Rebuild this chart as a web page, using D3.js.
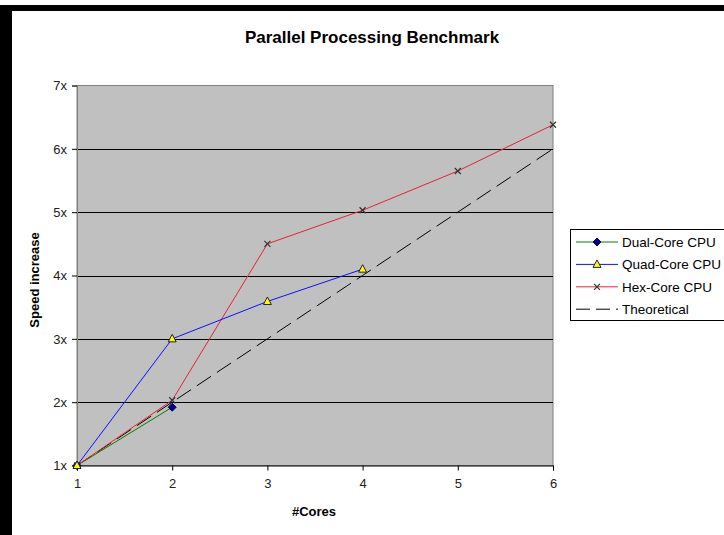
<!DOCTYPE html>
<html>
<head>
<meta charset="utf-8">
<script src="https://cdn.jsdelivr.net/npm/d3@7"></script>
<style>
  body { margin: 0; background: #fff; }
  svg { display: block; font-family: 'Liberation Sans', Arial, sans-serif; }
</style>
</head>
<body>
<svg id="chart" width="724" height="535"></svg>
<script>
// chart data
const cores = [1, 2, 3, 4, 5, 6];
const dualCore = [1, 1.92];
const quadCore = [1, 3.0, 3.59, 4.1];
const hexCore = [1, 2.03, 4.5, 5.03, 5.65, 6.38];
const theoretical = [1, 2, 3, 4, 5, 6];
const yTicks = [1, 2, 3, 4, 5, 6, 7];

const seriesNames = ['Dual-Core CPU', 'Quad-Core CPU', 'Hex-Core CPU', 'Theoretical'];

let svg = d3.select('#chart');
let width = 724;
let height = 535;

// frame (black bands on top and left)
svg.append('rect').attr('x', 0).attr('y', 5).attr('width', width).attr('height', 6).attr('fill', '#000');
svg.append('rect').attr('x', 0).attr('y', 5).attr('width', 12).attr('height', height).attr('fill', '#000');

let plot = { left: 77, right: 553, top: 85.5, bottom: 465.5 };

let x = d3.scaleLinear()
  .domain([1, 6])
  .range([plot.left, plot.right]);

let y = d3.scaleLinear()
  .domain([1, 7])
  .range([plot.bottom, plot.top]);

// plot area
svg.append('rect')
  .attr('x', plot.left)
  .attr('y', plot.top)
  .attr('width', plot.right - plot.left)
  .attr('height', plot.bottom - plot.top)
  .attr('fill', '#c0c0c0')
  .attr('stroke', '#808080')
  .attr('stroke-width', 1);

// gridlines
svg.append('g')
  .selectAll('line')
  .data(yTicks.slice(1, -1))
  .enter().append('line')
  .attr('x1', plot.left)
  .attr('x2', plot.right)
  .attr('y1', (d) => Math.round(y(d)) + 0.5)
  .attr('y2', (d) => Math.round(y(d)) + 0.5)
  .attr('stroke', '#000')
  .attr('stroke-width', 1);

// axes
let xAxis = d3.axisBottom(x)
  .tickValues(cores)
  .tickFormat(d3.format('d'))
  .tickSize(5)
  .tickPadding(8);

let yAxis = d3.axisLeft(y)
  .tickValues(yTicks)
  .tickFormat((d) => d + 'x')
  .tickSize(5)
  .tickPadding(5);

let gx = svg.append('g')
  .attr('transform', `translate(0,${plot.bottom})`)
  .call(xAxis);

let gy = svg.append('g')
  .attr('transform', `translate(${plot.left},0)`)
  .call(yAxis);

[gx, gy].forEach((g) => {
  g.select('.domain').attr('stroke', '#000');
  g.selectAll('.tick line').attr('stroke', '#000');
  g.selectAll('.tick text')
    .attr('fill', '#222')
    .style('font-size', '13px')
    .style('font-family', "'Liberation Sans', Arial, sans-serif");
});
gy.select('.domain').attr('stroke', '#808080');

// lines
let line = d3.line()
  .x((d, i) => x(cores[i]))
  .y((d) => y(d));

svg.append('path')
  .datum(theoretical)
  .attr('fill', 'none')
  .attr('stroke', '#000')
  .attr('stroke-width', 1)
  .attr('stroke-dasharray', '17,7')
  .attr('d', line);

svg.append('path')
  .datum(dualCore)
  .attr('fill', 'none')
  .attr('stroke', '#008000')
  .attr('stroke-width', 1)
  .attr('d', line);

svg.append('path')
  .datum(hexCore)
  .attr('fill', 'none')
  .attr('stroke', '#e8213a')
  .attr('stroke-width', 1)
  .attr('d', line);

svg.append('path')
  .datum(quadCore)
  .attr('fill', 'none')
  .attr('stroke', '#1010ff')
  .attr('stroke-width', 1)
  .attr('d', line);

// markers
function diamond(g, cx, cy) {
  g.append('path')
    .attr('d', `M${cx},${cy - 4}L${cx + 4},${cy}L${cx},${cy + 4}L${cx - 4},${cy}Z`)
    .attr('fill', '#000080')
    .attr('stroke', '#000080');
}
function triangle(g, cx, cy) {
  g.append('path')
    .attr('d', `M${cx},${cy - 4.5}L${cx + 4},${cy + 3}L${cx - 4},${cy + 3}Z`)
    .attr('fill', '#ffff00')
    .attr('stroke', '#222')
    .attr('stroke-width', 1);
}
function cross(g, cx, cy) {
  g.append('path')
    .attr('d', `M${cx - 3},${cy - 3}L${cx + 3},${cy + 3}M${cx + 3},${cy - 3}L${cx - 3},${cy + 3}`)
    .attr('stroke', '#333')
    .attr('stroke-width', 1.2);
}

let marks = svg.append('g');
hexCore.forEach((d, i) => cross(marks, x(cores[i]), y(d)));
dualCore.forEach((d, i) => diamond(marks, x(cores[i]), y(d)));
quadCore.forEach((d, i) => triangle(marks, x(cores[i]), y(d)));

// titles
svg.append('text')
  .attr('x', 372)
  .attr('y', 43)
  .attr('text-anchor', 'middle')
  .style('font-size', '17px')
  .style('font-weight', 'bold')
  .attr('fill', '#000')
  .text('Parallel Processing Benchmark');

svg.append('text')
  .attr('x', 314)
  .attr('y', 516)
  .attr('text-anchor', 'middle')
  .style('font-size', '13px')
  .style('font-weight', 'bold')
  .text('#Cores');

svg.append('text')
  .attr('transform', 'translate(39,280) rotate(-90)')
  .attr('text-anchor', 'middle')
  .style('font-size', '13px')
  .style('font-weight', 'bold')
  .text('Speed increase');

// legend
let legend = svg.append('g').attr('transform', 'translate(570,229)');
legend.append('rect')
  .attr('x', 0.5)
  .attr('y', 0.5)
  .attr('width', 160)
  .attr('height', 91)
  .attr('fill', '#fff')
  .attr('stroke', '#000');

let legendColors = ['#008000', '#1010ff', '#e8213a', '#000'];
let markerFns = [diamond, triangle, cross, null];

seriesNames.forEach((name, i) => {
  let ly = 13 + i * 22.4;
  let row = legend.append('g');
  row.append('line')
    .attr('x1', 6)
    .attr('x2', 48)
    .attr('y1', ly)
    .attr('y2', ly)
    .attr('stroke', legendColors[i])
    .attr('stroke-width', 1)
    .attr('stroke-dasharray', i === 3 ? '14,6' : null);
  if (markerFns[i]) markerFns[i](row, 27, ly);
  row.append('text')
    .attr('x', 52)
    .attr('y', ly + 5)
    .style('font-size', '13.5px')
    .attr('fill', '#000')
    .text(name);
});
</script>
</body>
</html>
